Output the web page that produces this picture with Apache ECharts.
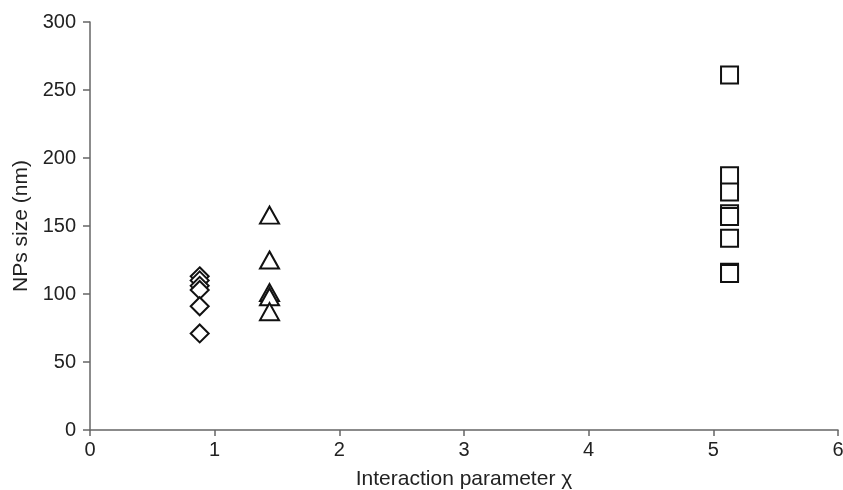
<!DOCTYPE html>
<html>
<head>
<meta charset="utf-8">
<script src="https://cdn.jsdelivr.net/npm/echarts@6/dist/echarts.min.js"></script>
<style>html,body{margin:0;padding:0;background:#fff}#c{width:843px;height:490px}</style>
</head>
<body>
<div id="c"></div>
<script>
const xTicks = [0, 1, 2, 3, 4, 5, 6];
const yTicks = [0, 50, 100, 150, 200, 250, 300];
const diamondX = [0.88, 0.88, 0.88, 0.88, 0.88, 0.88];
const diamondY = [113, 110, 106, 103, 91, 71];
const triangleX = [1.44, 1.44, 1.44, 1.44, 1.44];
const triangleY = [158, 125, 101, 98, 87];
const squareX = [5.13, 5.13, 5.13, 5.13, 5.13, 5.13, 5.13, 5.13];
const squareY = [261, 187, 175, 159, 157, 141, 116, 115];

const pairs = (xs, ys) => xs.map((x, i) => [x, ys[i]]);
const font = 'Liberation Sans, Arial, sans-serif';
const markerStyle = { color: '#fff', borderColor: '#111', borderWidth: 2, opacity: 1 };

const chart = echarts.init(document.getElementById('c'));
chart.setOption({
  animation: false,
  grid: { left: 90, right: 5, top: 22, bottom: 60, containLabel: false, outerBoundsMode: 'none' },
  xAxis: {
    type: 'value', min: xTicks[0], max: xTicks[xTicks.length - 1], interval: 1,
    name: 'Interaction parameter χ', nameLocation: 'middle', nameGap: 39,
    nameTextStyle: { fontFamily: font, fontSize: 21, color: '#222' },
    axisLine: { show: true, lineStyle: { color: '#666', width: 1.5 } },
    axisTick: { show: true, inside: false, length: 6, lineStyle: { color: '#666', width: 1.5 } },
    axisLabel: { fontFamily: font, fontSize: 20, color: '#222', margin: 10 },
    splitLine: { show: false }
  },
  yAxis: {
    type: 'value', min: yTicks[0], max: yTicks[yTicks.length - 1], interval: 50,
    name: 'NPs size (nm)', nameLocation: 'middle', nameGap: 54, nameRotate: 90,
    nameTextStyle: { fontFamily: font, fontSize: 21, color: '#222' },
    axisLine: { show: true, lineStyle: { color: '#666', width: 1.5 } },
    axisTick: { show: true, inside: false, length: 7, lineStyle: { color: '#666', width: 1.5 } },
    axisLabel: { fontFamily: font, fontSize: 20, color: '#222', margin: 14 },
    splitLine: { show: false }
  },
  series: [
    { type: 'scatter', symbol: 'diamond', symbolSize: [18, 18], data: pairs(diamondX, diamondY), itemStyle: markerStyle },
    { type: 'scatter', symbol: 'triangle', symbolSize: [19, 17], data: pairs(triangleX, triangleY), itemStyle: markerStyle },
    { type: 'scatter', symbol: 'rect', symbolSize: [17, 17], data: pairs(squareX, squareY), itemStyle: markerStyle }
  ]
});
</script>
</body>
</html>
